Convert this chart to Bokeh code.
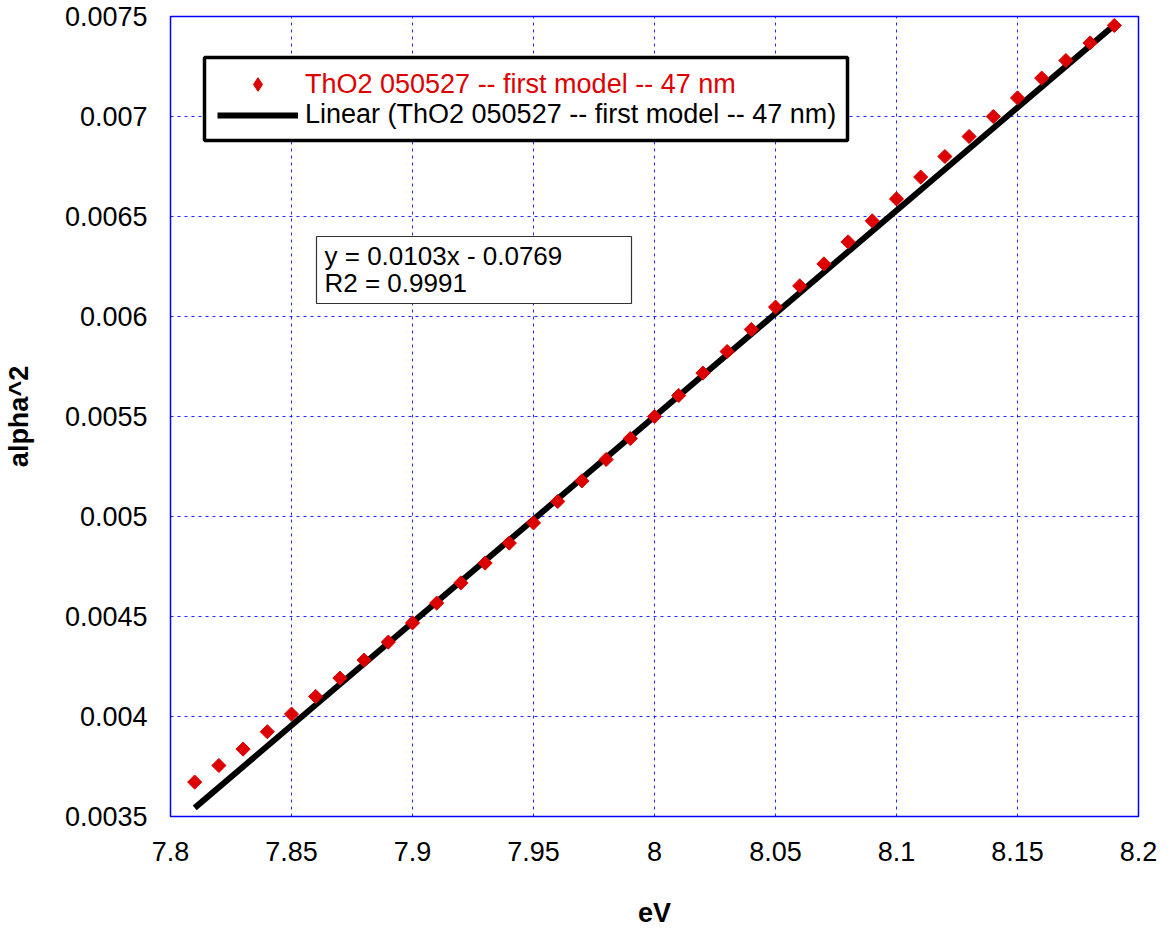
import numpy as np
from bokeh.plotting import figure
from bokeh.models import (FixedTicker, Range1d, Legend, LegendItem, BoxAnnotation, Label)
from bokeh.embed import file_html
from bokeh.resources import INLINE

# ---- data ----
ev = [7.81, 7.82, 7.83, 7.84, 7.85, 7.86, 7.87, 7.88, 7.89, 7.90,
      7.91, 7.92, 7.93, 7.94, 7.95, 7.96, 7.97, 7.98, 7.99, 8.00,
      8.01, 8.02, 8.03, 8.04, 8.05, 8.06, 8.07, 8.08, 8.09, 8.10,
      8.11, 8.12, 8.13, 8.14, 8.15, 8.16, 8.17, 8.18, 8.19]
alpha2 = [0.003672, 0.003755, 0.003837, 0.003924, 0.004012, 0.004100, 0.004192, 0.004282, 0.004372, 0.004468,
          0.004567, 0.004668, 0.004767, 0.004867, 0.004968, 0.005075, 0.005178, 0.005285, 0.005390, 0.005500,
          0.005605, 0.005717, 0.005825, 0.005935, 0.006047, 0.006153, 0.006263, 0.006373, 0.006478, 0.006588,
          0.006697, 0.006800, 0.006900, 0.007000, 0.007093, 0.007192, 0.007280, 0.007368, 0.007455]
slope = 0.0103
intercept = -0.0769
r2 = 0.9991

x_ticks = [7.8, 7.85, 7.9, 7.95, 8.0, 8.05, 8.1, 8.15, 8.2]
x_tick_labels = ["7.8", "7.85", "7.9", "7.95", "8", "8.05", "8.1", "8.15", "8.2"]
y_ticks = [0.0035, 0.004, 0.0045, 0.005, 0.0055, 0.006, 0.0065, 0.007, 0.0075]
y_tick_labels = ["0.0035", "0.004", "0.0045", "0.005", "0.0055", "0.006", "0.0065", "0.007", "0.0075"]

series_label = "ThO2 050527 -- first model -- 47 nm"
fit_label = "Linear (ThO2 050527 -- first model -- 47 nm)"

FONT = "Liberation Sans"
RED = "#dd0000"

p = figure(frame_width=968, frame_height=800,
           min_border_left=163, min_border_right=24, min_border_top=16, min_border_bottom=100,
           x_range=Range1d(7.8, 8.2), y_range=Range1d(0.0035, 0.0075),
           output_backend="svg", toolbar_location=None)

p.background_fill_color = "white"
p.border_fill_color = "white"
p.outline_line_color = "#0000ff"
p.outline_line_width = 1.5

for ax, ticks, labels in ((p.xaxis[0], x_ticks, x_tick_labels), (p.yaxis[0], y_ticks, y_tick_labels)):
    ax.ticker = FixedTicker(ticks=ticks)
    ax.major_label_overrides = {t: l for t, l in zip(ticks, labels)}
    ax.axis_line_color = None
    ax.major_tick_line_color = None
    ax.minor_tick_line_color = None
    ax.major_tick_in = 0
    ax.major_tick_out = 0
    ax.major_label_text_font = FONT
    ax.major_label_text_font_size = "27px"
    ax.major_label_text_color = "black"
    ax.axis_label_text_font = FONT
    ax.axis_label_text_font_size = "27px"
    ax.axis_label_text_font_style = "bold"
    ax.axis_label_text_color = "black"

p.xaxis.axis_label = "eV"
p.yaxis.axis_label = "alpha^2"
p.yaxis.major_label_standoff = 23
p.xaxis.major_label_standoff = 25
p.yaxis.axis_label_standoff = 28
p.xaxis.axis_label_standoff = 34

for g in (p.xgrid[0], p.ygrid[0]):
    g.grid_line_color = "#0000ff"
    g.grid_line_alpha = 0.85
    g.grid_line_dash = "3 4"
    g.grid_line_width = 1

# fit line from data range
x_fit = [ev[0], ev[-1]]
y_fit = [slope * x + intercept for x in x_fit]
line_r = p.line(x_fit, y_fit, line_color="black", line_width=6)
pts_r = p.scatter(ev, alpha2, marker="square", size=10, angle=np.pi / 4,
                  fill_color=RED, line_color=RED)
# hidden legend swatch so the legend shows a diamond
swatch_r = p.scatter(ev[:1], alpha2[:1], marker="diamond", size=14,
                     fill_color=RED, line_color=RED, visible=False)

# legend border box (screen units relative to frame)
legend_box = BoxAnnotation(left=34, right=677, top=759, bottom=676,
                           left_units="screen", right_units="screen",
                           top_units="screen", bottom_units="screen",
                           fill_color="white", fill_alpha=1.0,
                           line_color="black", line_alpha=1.0, line_width=3.5)
p.add_layout(legend_box)

common = dict(padding=0, margin=0, spacing=0, glyph_width=81,
              label_standoff=7, border_line_alpha=0,
              background_fill_alpha=0, label_text_font=FONT,
              label_text_font_size="27px", inactive_fill_alpha=0)
leg_a = Legend(items=[LegendItem(label=series_label, renderers=[swatch_r])],
               location=(47, 715), label_text_color=RED,
               glyph_height=34, label_height=34, **common)
leg_b = Legend(items=[LegendItem(label=fit_label, renderers=[line_r])],
               location=(47, 686), label_text_color="black",
               glyph_height=30, label_height=30, **common)
p.add_layout(leg_a)
p.add_layout(leg_b)

# regression equation box
eq_box = BoxAnnotation(left=146, right=461, top=580, bottom=513,
                       left_units="screen", right_units="screen",
                       top_units="screen", bottom_units="screen",
                       fill_color="white", fill_alpha=1.0,
                       line_color="#333333", line_alpha=1.0, line_width=1.2)
p.add_layout(eq_box)
eq_text = "y = %.4fx - %.4f" % (slope, -intercept)
r2_text = "R2 = %.4f" % r2
p.add_layout(Label(x=154, y=561, x_units="screen", y_units="screen", text=eq_text,
                   text_font=FONT, text_font_size="26px", text_baseline="alphabetic",
                   text_color="black"))
p.add_layout(Label(x=154, y=534, x_units="screen", y_units="screen", text=r2_text,
                   text_font=FONT, text_font_size="26px", text_baseline="alphabetic",
                   text_color="black"))

open("out.html", "w").write(file_html(p, INLINE))
